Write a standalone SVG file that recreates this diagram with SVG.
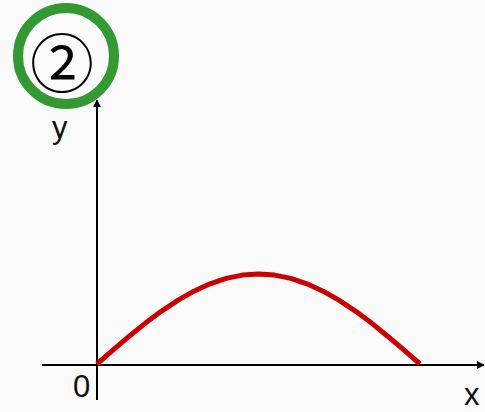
<svg xmlns="http://www.w3.org/2000/svg" width="485" height="412" viewBox="0 0 485 412">
<style>
.axis{stroke:#000;stroke-width:2;fill:none}
.lbl{font-family:"Liberation Sans",Arial,sans-serif;font-size:31px;fill:#111}
.curve{stroke:#cc0000;stroke-width:5;fill:none;stroke-linejoin:round}
</style>
<defs>
<marker id="arr" viewBox="0 0 10 10" refX="9" refY="5" markerWidth="4" markerHeight="4" orient="auto" markerUnits="strokeWidth">
<path d="M0,0 L10,5 L0,10 z" fill="#000"/>
</marker>
</defs>
<rect width="485" height="412" fill="#fafafa"/>
<g id="connectors">
<line class="axis" x1="97" y1="400" x2="97" y2="100" marker-end="url(#arr)"/>
<line class="axis" x1="42" y1="365" x2="484" y2="365" marker-end="url(#arr)"/>
</g>
<g id="curve">
<polyline class="curve" points="97,364 113.15,349.9 129.3,336.2 145.45,323.1 161.6,311.1 177.75,300.4 193.9,291.2 210.05,283.8 226.2,278.4 242.35,275.1 258.5,274 274.65,275.1 290.8,278.4 306.95,283.8 323.1,291.2 339.25,300.4 355.4,311.1 371.55,323.1 387.7,336.2 403.85,349.9 420,364"/>
</g>
<g id="labels">
<text class="lbl" x="52" y="138">y</text>
<text class="lbl" x="73" y="397">0</text>
<text class="lbl" x="464" y="405">x</text>
</g>
<g id="badge">
<circle cx="66" cy="56" r="48" fill="none" stroke="#339933" stroke-width="10"/>
<text x="62" y="87" text-anchor="middle" font-family="'Noto Sans CJK JP','DejaVu Sans',sans-serif" font-size="64" fill="#000">②</text>
</g>
</svg>
